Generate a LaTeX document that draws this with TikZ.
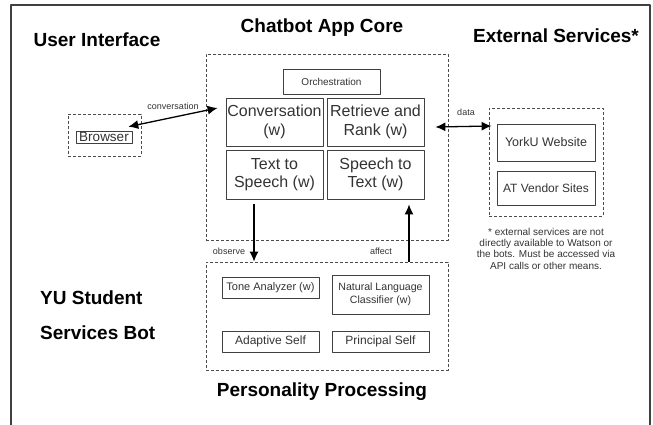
\documentclass[tikz,border=0pt]{standalone}
\usepackage{fontspec}
\setmainfont{Liberation Sans}
\usetikzlibrary{arrows,arrows.meta,positioning,calc}

\begin{document}
\begin{tikzpicture}[x=1pt,y=-1pt,>={Latex[length=10pt,width=9pt]},line join=bevel,
  title/.style={font=\fontsize{19}{22}\selectfont\bfseries},
  zone/.style={draw=black!70,dash pattern=on 3pt off 2pt,line width=0.7pt,inner sep=0pt},
  box/.style={draw=black!75,line width=0.8pt,inner sep=0pt,align=center,text=black!80},
  bigbox/.style={box,minimum width=97pt,font=\fontsize{16}{18.5}\selectfont},
  smallbox/.style={box,minimum width=97pt,minimum height=21pt,font=\fontsize{12}{14}\selectfont},
  lbl/.style={text=black!80,font=\fontsize{9}{11}\selectfont},
  flow/.style={draw=black,line width=1.3pt},
]
\useasboundingbox (0,0) rectangle (653,425);
% outer frame
\draw[black!75,line width=1.4pt] (11,425) -- (11,5) -- (650,5) -- (650,425);
% titles
\node[title] (tui) at (97,40) {User Interface};
\node[title] (tcore) at (322,28) {Chatbot App Core};
\node[title] (text) at (556,36) {External Services*};
\node[title,anchor=west,inner sep=0pt] (tyu) at (40,298) {YU Student};
\node[title,anchor=west,inner sep=0pt] (tsb) at (40,333) {Services Bot};
\node[title] (tpers) at (322,392) {Personality Processing};
% dashed zones
\node[zone,minimum width=242pt,minimum height=186pt] (core) at (327,147) {};
\node[zone,minimum width=114pt,minimum height=108pt] (ext) at (546,162) {};
\node[zone,minimum width=242pt,minimum height=108pt] (pers) at (327,316) {};
\node[zone,minimum width=73pt,minimum height=42pt] (ui) at (104.5,135) {};
% chatbot core
\node[box,minimum width=97pt,minimum height=25pt,font=\fontsize{10}{12}\selectfont] (orch) at (331.5,81.5) {Orchestration};
\node[bigbox,minimum height=48pt] (conv) at (274.5,122) {Conversation\\(w)};
\node[bigbox,minimum height=48pt] (rr) at (375.5,122) {Retrieve and\\Rank (w)};
\node[bigbox,minimum height=49pt] (tts) at (274.5,174.5) {Text to\\Speech (w)};
\node[bigbox,minimum height=49pt] (stt) at (375.5,174.5) {Speech to\\Text (w)};
% user interface
\node[box,minimum width=56pt,minimum height=12pt,line width=0.6pt,font=\fontsize{13.5}{14}\selectfont] (brw) at (104,137) {Browser};
% external services
\node[box,minimum width=98pt,minimum height=37pt,font=\fontsize{12.5}{14}\selectfont] (york) at (546,142.5) {YorkU Website};
\node[box,minimum width=98pt,minimum height=34pt,font=\fontsize{12}{14}\selectfont] (atv) at (546,188) {AT Vendor Sites};
\node[text=black!80,align=center,font=\fontsize{10}{11.3}\selectfont] (note) at (546,248.5) {* external services are not\\directly available to Watson or\\the bots. Must be accessed via\\API calls or other means.};
% personality
\node[smallbox,font=\fontsize{11}{13}\selectfont] (tone) at (270.5,287.5) {Tone Analyzer (w)};
\node[smallbox] (adapt) at (270.5,341.5) {Adaptive Self};
\node[smallbox,minimum height=39pt,font=\fontsize{10.6}{13.5}\selectfont] (nlc) at (380.5,294.5) {Natural Language\\Classifier (w)};
\node[smallbox] (prin) at (380.5,341.5) {Principal Self};
% connectors
\draw[flow,<->] ($(brw.north east)+(-4,-4)$) -- ($(conv.west)+(-8,-14)$);
\node[lbl] (lconv) at (173,106) {conversation};
\draw[flow,<->] ($(rr.east)+(11,5)$) -- ($(ext.west)+(3,-36)$);
\node[lbl] (ldata) at (466,112) {data};
\coordinate (obs) at ($(tts.south)+(-20.5,5)$);
\coordinate (aff) at ($(stt.south)+(33.5,5)$);
\draw[flow,->] (obs) -- (obs |- pers.north);
\draw[flow,->] (aff |- pers.north) -- (aff);
\node[lbl] (lobs) at (229,251) {observe};
\node[lbl] (laff) at (381,251) {affect};
\end{tikzpicture}
\end{document}
